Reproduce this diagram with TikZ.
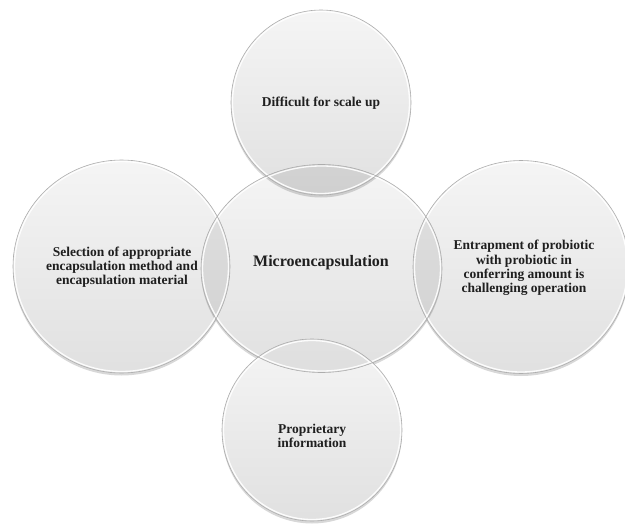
\documentclass[tikz,border=0pt]{standalone}
\usepackage{fontspec}
\setmainfont{Liberation Serif}
\usetikzlibrary{shapes.geometric,shadows}
\begin{document}
\begin{tikzpicture}[x=1pt,y=-1pt,
  bub/.style={ellipse, inner sep=0pt, top color=black!4, bottom color=black!12,
    drop shadow={shadow xshift=0pt, shadow yshift=-2.5pt, opacity=0.22, fill=black!70}},
  edge/.style={draw=black!32, line width=0.6pt},
  rim/.style={draw=white, line width=1.3pt, opacity=0.9},
  lens/.style={fill=black, fill opacity=0.075},
  lbl/.style={font=\bfseries\fontsize{13.5}{14.2}\selectfont, align=center, text=black!88, inner sep=0pt}]
\useasboundingbox (0,0) rectangle (625,525);
% bubbles
\node[bub, minimum width=217pt, minimum height=213pt] (L) at (121.5,266.5) {};
\node[bub, minimum width=216pt, minimum height=213pt] (R) at (521,267) {};
\node[bub, minimum width=241pt, minimum height=208pt] (C) at (321.5,268.5) {};
\node[bub, minimum width=180pt, minimum height=185pt] (T) at (321,102.5) {};
\node[bub, minimum width=180pt, minimum height=182pt] (B) at (312,430) {};
% overlaps
\begin{scope}
  \clip (C.center) ellipse [x radius=120.5pt, y radius=104pt];
  \fill[lens] (L.center) ellipse [x radius=108.5pt, y radius=106.5pt];
  \fill[lens] (R.center) ellipse [x radius=108pt, y radius=106.5pt];
  \fill[lens] (T.center) ellipse [x radius=90pt, y radius=92.5pt];
  \fill[lens] (B.center) ellipse [x radius=90pt, y radius=91pt];
\end{scope}
% rims and edges
\path[rim] (L.center) ellipse [x radius=107pt, y radius=105pt];
\path[rim] (R.center) ellipse [x radius=106.5pt, y radius=105pt];
\path[rim] (C.center) ellipse [x radius=119pt, y radius=102.5pt];
\path[rim] (T.center) ellipse [x radius=88.5pt, y radius=91pt];
\path[rim] (B.center) ellipse [x radius=88.5pt, y radius=89.5pt];
\path[edge] (L.center) ellipse [x radius=108.5pt, y radius=106.5pt];
\path[edge] (R.center) ellipse [x radius=108pt, y radius=106.5pt];
\path[edge] (C.center) ellipse [x radius=120.5pt, y radius=104pt];
\path[edge] (T.center) ellipse [x radius=90pt, y radius=92.5pt];
\path[edge] (B.center) ellipse [x radius=90pt, y radius=91pt];
% labels
\node[lbl] (tT) at (321,103) {Difficult for scale up};
\node[lbl] (tL) at (122,267) {Selection of appropriate\\encapsulation method and\\encapsulation material};
\node[lbl] (tR) at (524,268) {Entrapment of probiotic\\with probiotic in\\conferring amount is\\challenging operation};
\node[lbl] (tB) at (312,436) {Proprietary\\information};
\node[lbl, font=\bfseries\fontsize{16}{18}\selectfont] (tC) at (321,263) {Microencapsulation};
\end{tikzpicture}
\end{document}
